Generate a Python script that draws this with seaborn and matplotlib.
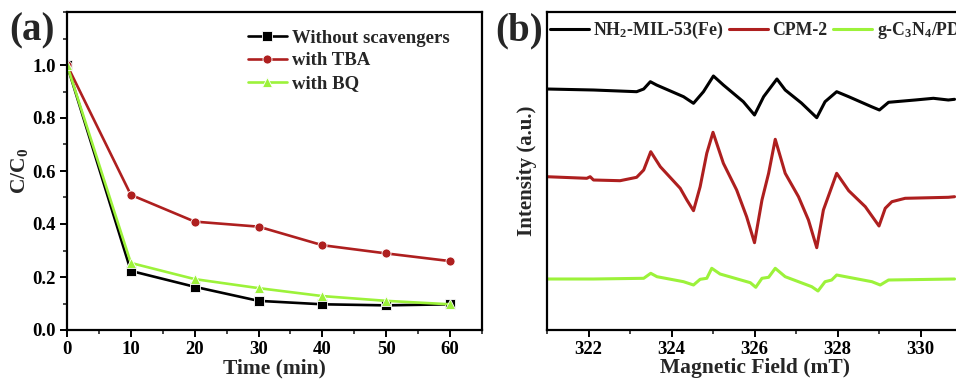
import matplotlib
matplotlib.use("Agg")
import matplotlib.pyplot as plt
from matplotlib.ticker import MultipleLocator, NullLocator, FixedLocator
import seaborn as sns
import pandas as pd

# ---------------- data: panel (a) ----------------
time_min = [0, 10, 20, 30, 40, 50, 60]
without_scav = [1.00, 0.223, 0.163, 0.110, 0.097, 0.093, 0.097]
with_tba = [1.00, 0.510, 0.409, 0.390, 0.320, 0.289, 0.260]
with_bq = [1.00, 0.253, 0.192, 0.158, 0.128, 0.110, 0.097]
series_a = ["Without scavengers", "with TBA", "with BQ"]
yticks_a = [0.0, 0.2, 0.4, 0.6, 0.8, 1.0]

# ---------------- data: panel (b) (EPR, arbitrary units) ----------------
field_nh2 = [320.99, 322.12, 323.16, 323.33, 323.49, 323.64, 324.29, 324.53, 324.77,
             325.01, 325.25, 325.73, 326.00, 326.22, 326.54, 326.74, 327.13, 327.50,
             327.70, 327.98, 328.27, 328.82, 329.01, 329.23, 329.87, 330.31, 330.67, 330.82]
int_nh2 = [241, 240, 238.3, 241, 248.3, 245, 233.3, 226.7, 238.3,
           254, 245, 228.3, 215, 233.3, 251, 240, 227, 212.3,
           228.3, 238.3, 233.3, 223.3, 220, 227.7, 230, 231.7, 230, 230.7]

field_cpm = [320.99, 321.96, 322.04, 322.12, 322.76, 323.16, 323.33, 323.50, 323.73,
             324.21, 324.37, 324.53, 324.69, 324.85, 325.00, 325.25, 325.57, 325.81,
             326.00, 326.18, 326.34, 326.50, 326.74, 327.06, 327.30, 327.50, 327.66,
             327.98, 328.27, 328.67, 329.00, 329.15, 329.31, 329.63, 330.67, 330.82]
int_cpm = [153.3, 151.7, 153.3, 150, 149.3, 152.7, 160, 178.3, 163.3,
           141.7, 130, 119.3, 143.3, 176.7, 197.7, 166.7, 140, 113.3,
           87.3, 130, 156.7, 190.7, 156.7, 133.3, 110, 82.3, 120,
           156.7, 139.3, 123.3, 104, 121.7, 128.3, 131.7, 132.7, 133.3]

field_gcn = [320.99, 322.12, 323.33, 323.50, 323.65, 324.29, 324.53, 324.69, 324.85,
             324.97, 325.17, 325.90, 326.03, 326.18, 326.34, 326.50, 326.74, 327.38,
             327.53, 327.70, 327.86, 327.98, 328.27, 328.83, 329.03, 329.23, 330.82]
int_gcn = [51, 51, 51.7, 56.7, 53.3, 48.3, 45, 50.7, 51.7,
           61.7, 56, 47.3, 42.7, 51.7, 52.7, 61.7, 53.3, 43.3,
           39, 48.3, 50, 55, 52.7, 48.3, 45, 50, 51]
series_b = ["NH$_2$-MIL-53(Fe)", "CPM-2", "g-C$_3$N$_4$/PDI"]

# ---------------- style ----------------
sns.set_style("ticks")
plt.rcParams["font.family"] = ["Liberation Serif", "DejaVu Serif"]
plt.rcParams["font.weight"] = "bold"
plt.rcParams["axes.labelweight"] = "bold"
plt.rcParams["mathtext.fontset"] = "custom"
plt.rcParams["mathtext.rm"] = "Liberation Serif:bold"
plt.rcParams["mathtext.it"] = "Liberation Serif:bold:italic"
plt.rcParams["mathtext.bf"] = "Liberation Serif:bold"

BLACK = "#000000"
RED = "#AE1F1F"
GREEN = "#9CF23A"

fig = plt.figure(figsize=(9.56, 3.8), dpi=100)
ax_a = fig.add_axes([67 / 956, 1 - 330 / 380, 415 / 956, 318 / 380])
ax_b = fig.add_axes([547 / 956, 1 - 330 / 380, 415 / 956, 318 / 380])

# ---------------- panel (a) ----------------
df_a = pd.DataFrame({
    "t": time_min * 3,
    "c": without_scav + with_tba + with_bq,
    "s": [series_a[0]] * 7 + [series_a[1]] * 7 + [series_a[2]] * 7,
})
sns.lineplot(data=df_a, x="t", y="c", hue="s", style="s",
             palette=[BLACK, RED, GREEN], markers=["s", "o", "^"], dashes=False,
             markersize=6.5, markeredgewidth=0.6, linewidth=1.9, ax=ax_a,
             estimator=None, sort=False)
ax_a.set_xlim(0, 65)
ax_a.set_ylim(0, 1.2)
ax_a.xaxis.set_major_locator(FixedLocator(time_min))
ax_a.xaxis.set_minor_locator(MultipleLocator(5))
ax_a.yaxis.set_major_locator(FixedLocator(yticks_a))
ax_a.yaxis.set_minor_locator(MultipleLocator(0.1))
ax_a.set_yticklabels([f"{v:.1f}" for v in yticks_a])
ax_a.set_xlabel("Time (min)", fontsize=15.5, labelpad=0)
ax_a.set_ylabel("C/C$_0$", fontsize=15.5, labelpad=2)
ax_a.legend(loc="upper left", bbox_to_anchor=(0.435, 0.945), frameon=False,
            fontsize=13.5, handlelength=2.1, handletextpad=0.25,
            labelspacing=0.3, borderaxespad=0, borderpad=0)
ax_a.text(-0.14, 1.0, "(a)", transform=ax_a.transAxes, fontsize=28,
          fontweight="bold", va="top", ha="left")

# ---------------- panel (b) ----------------
df_b = pd.DataFrame({
    "f": field_nh2 + field_cpm + field_gcn,
    "i": int_nh2 + int_cpm + int_gcn,
    "s": [series_b[0]] * len(field_nh2) + [series_b[1]] * len(field_cpm)
         + [series_b[2]] * len(field_gcn),
})
sns.lineplot(data=df_b, x="f", y="i", hue="s", palette=[BLACK, RED, GREEN],
             linewidth=2.2, ax=ax_b, estimator=None, sort=False)
ax_b.set_xlim(321, 331)
ax_b.set_ylim(0, 318)
ax_b.xaxis.set_major_locator(MultipleLocator(2))
ax_b.xaxis.set_minor_locator(MultipleLocator(1))
ax_b.yaxis.set_major_locator(NullLocator())
ax_b.yaxis.set_minor_locator(NullLocator())
ax_b.set_xlabel("Magnetic Field (mT)", fontsize=15.5, labelpad=0)
ax_b.set_ylabel("Intensity (a.u.)", fontsize=15, labelpad=7)
ax_b.legend(loc="upper left", bbox_to_anchor=(0.007, 0.975), frameon=False, ncol=3,
            fontsize=12.8, handlelength=2.2, handletextpad=0.25, columnspacing=0.3,
            borderaxespad=0, borderpad=0)
ax_b.text(-0.125, 1.0, "(b)", transform=ax_b.transAxes, fontsize=28,
          fontweight="bold", va="top", ha="left")

for ax in (ax_a, ax_b):
    for sp in ax.spines.values():
        sp.set_visible(True)
        sp.set_linewidth(1.6)
        sp.set_color("black")
    ax.tick_params(axis="both", which="major", direction="out", length=5, width=1.4,
                   labelsize=13.5, pad=3, colors="black")
    ax.tick_params(axis="both", which="minor", direction="out", length=3, width=1.2)
    for lbl in ax.get_xticklabels() + ax.get_yticklabels():
        lbl.set_fontweight("bold")

fig.savefig("out.png", dpi=100, facecolor="white")
